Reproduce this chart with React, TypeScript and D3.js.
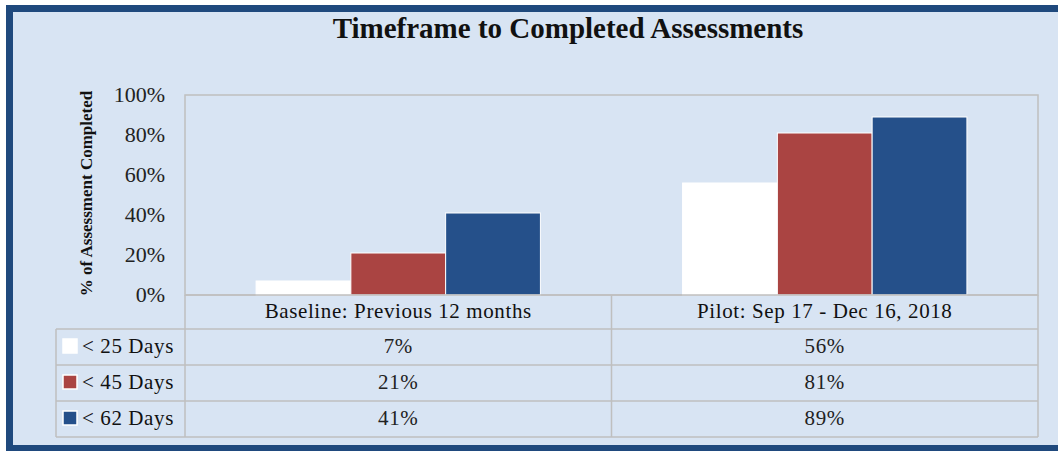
import React from "react";
import * as d3 from "d3";

const categories = ["Baseline: Previous 12 months", "Pilot: Sep 17 - Dec 16, 2018"];
const seriesNames = ["< 25 Days", "< 45 Days", "< 62 Days"];
const seriesColors = ["#FFFFFF", "#AA4442", "#25508A"];
const under25 = [7, 56];
const under45 = [21, 81];
const under62 = [41, 89];
const yTicks = [0, 20, 40, 60, 80, 100];
const title = "Timeframe to Completed Assessments";
const yTitle = "% of Assessment Completed";

const W = 1058;
const H = 451;
const FONT = "'Liberation Serif', 'Times New Roman', serif";
const GRID = "#BFBFBF";

export default function App() {
  const series = [under25, under45, under62];
  const plotLeft = 185;
  const plotRight = 1038;
  const plotTop = 95;
  const plotBottom = 295;
  const legendLeft = 56;
  const rowEdges = [295, 329, 365, 401, 437];

  const x0 = d3.scaleBand<string>().domain(categories).range([plotLeft, plotRight]).paddingInner(0).paddingOuter(0);
  const x1 = d3
    .scaleBand<string>()
    .domain(seriesNames)
    .range([0, x0.bandwidth()])
    .paddingInner(0)
    .paddingOuter(0.75);
  const y = d3.scaleLinear().domain([0, 100]).range([plotBottom, plotTop]);

  return (
    <svg
      width={W}
      height={H}
      style={{ position: "absolute", left: 0, top: 0, fontFamily: FONT }}
    >
      <rect x={0} y={0} width={W} height={H} fill="#FFFFFF" />
      <rect x={9.5} y={8.5} width={1060} height={440} fill="#D8E4F3" stroke="#1F497D" strokeWidth={7} />

      <text x={568} y={38} textAnchor="middle" fontSize={29} fontWeight="bold" fill="#111">
        {title}
      </text>

      {/* Y axis title */}
      <text
        transform={`translate(92, ${(82 + 305) / 2}) rotate(-90)`}
        textAnchor="middle"
        fontSize={17}
        fontWeight="bold"
        fill="#111"
      >
        {yTitle}
      </text>

      {/* plot area */}
      <rect
        x={plotLeft}
        y={plotTop}
        width={plotRight - plotLeft}
        height={plotBottom - plotTop}
        fill="none"
        stroke={GRID}
        strokeWidth={1.5}
      />

      {/* y tick labels */}
      {yTicks.map((t) => (
        <text key={t} x={165} y={y(t) + 7} textAnchor="end" fontSize={22} fill="#222">
          {`${t}%`}
        </text>
      ))}

      {/* bars */}
      {categories.map((c, ci) => (
        <g key={c} transform={`translate(${x0(c)},0)`}>
          {seriesNames.map((s, si) => (
            <rect
              key={s}
              x={x1(s)}
              y={y(series[si][ci])}
              width={x1.bandwidth()}
              height={y(0) - y(series[si][ci])}
              fill={seriesColors[si]}
              stroke="#FFFFFF"
              strokeWidth={1}
            />
          ))}
        </g>
      ))}

      {/* data table lines */}
      <g stroke={GRID} strokeWidth={1.5}>
        <line x1={plotLeft} x2={plotRight} y1={rowEdges[0]} y2={rowEdges[0]} />
        {rowEdges.slice(1).map((ry) => (
          <line key={ry} x1={legendLeft} x2={plotRight} y1={ry} y2={ry} />
        ))}
        <line x1={legendLeft} x2={legendLeft} y1={rowEdges[1]} y2={rowEdges[4]} />
        <line x1={plotLeft} x2={plotLeft} y1={rowEdges[0]} y2={rowEdges[4]} />
        <line x1={plotRight} x2={plotRight} y1={rowEdges[0]} y2={rowEdges[4]} />
        {categories.slice(1).map((c) => (
          <line key={c} x1={x0(c)} x2={x0(c)} y1={rowEdges[0]} y2={rowEdges[4]} />
        ))}
      </g>

      {/* category labels */}
      {categories.map((c) => (
        <text
          key={c}
          x={(x0(c) as number) + x0.bandwidth() / 2}
          y={318}
          textAnchor="middle"
          fontSize={21}
          letterSpacing={0.6}
          fill="#111"
        >
          {c}
        </text>
      ))}

      {/* legend + values */}
      {seriesNames.map((s, si) => {
        const rTop = rowEdges[si + 1];
        const baseY = rTop + 24;
        return (
          <g key={s}>
            <rect x={63} y={rTop + 10} width={14} height={14} fill={seriesColors[si]} stroke="#FFFFFF" strokeWidth={1.5} />
            <text x={82} y={baseY} fontSize={21} letterSpacing={0.6} fill="#111">
              {s}
            </text>
            {categories.map((c, ci) => (
              <text
                key={c}
                x={(x0(c) as number) + x0.bandwidth() / 2}
                y={baseY}
                textAnchor="middle"
                fontSize={21}
                letterSpacing={0.6}
                fill="#222"
              >
                {`${series[si][ci]}%`}
              </text>
            ))}
          </g>
        );
      })}
    </svg>
  );
}
